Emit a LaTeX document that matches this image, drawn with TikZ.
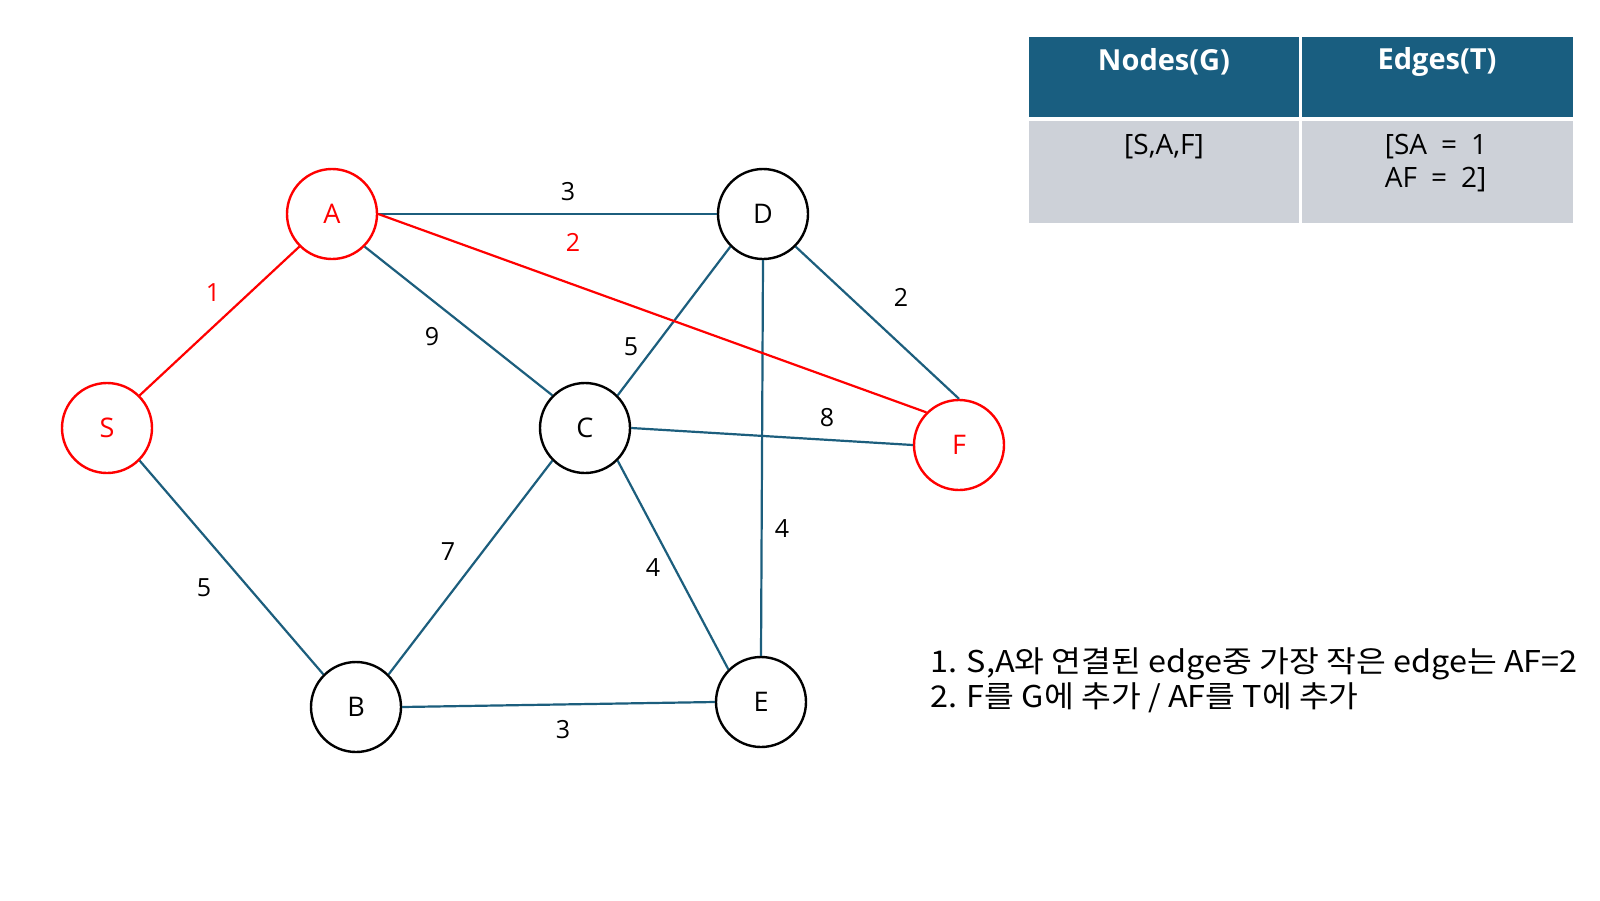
\documentclass[tikz,border=0pt]{standalone}
\usepackage{fontspec}
\setmainfont{Open Sans}
\newfontfamily\kr[FakeStretch=1.08]{Noto Sans CJK KR}
\definecolor{edgeblue}{RGB}{28,94,125}
\definecolor{hdr}{RGB}{25,94,128}
\definecolor{cellgray}{RGB}{205,209,216}
\definecolor{red}{RGB}{255,0,0}
\begin{document}
\begin{tikzpicture}[x=1pt,y=-1pt,
  vert/.style={circle,draw=black,line width=2.4pt,minimum size=90pt,inner sep=0pt,font=\fontsize{27}{30}\selectfont},
  redvert/.style={vert,draw=red,text=red},
  e/.style={draw=edgeblue,line width=2.2pt},
  re/.style={draw=red,line width=2.2pt},
  wt/.style={font=\fontsize{25}{28}\selectfont,text=black,inner sep=0pt},
  rwt/.style={wt,text=red},
  cell/.style={inner sep=0pt,font=\fontsize{28}{33}\selectfont,align=left}]
\useasboundingbox (0,0) rectangle (1600,900);
\fill[white] (0,0) rectangle (1600,900);
% nodes
\node[redvert] (S) at (107,428) {S};
\node[redvert] (A) at (332,214) {A};
\node[vert] (D) at (763,214) {D};
\node[vert] (C) at (585,428) {C};
\node[redvert] (F) at (959,445) {F};
\node[vert] (B) at (356,707) {B};
\node[vert] (E) at (761,702) {E};
% edges
\draw[e] (A.east) -- (D.west);
\draw[e] (A.south east) -- (C.north west);
\draw[e] (S.south east) -- (B.north west);
\draw[e] (C.north east) -- (D.south west);
\draw[e] (C.east) -- (F.west);
\draw[e] (D.south east) -- (F.north);
\draw[e] (D.south) -- (E.north);
\draw[e] (C.south west) -- (B.north east);
\draw[e] (C.south east) -- (E.north west);
\draw[e] (B.east) -- (E.west);
\draw[re] (S.north east) -- (A.south west);
\draw[re] (A.east) -- (F.north west);
% weights
\node[rwt] (w1) at (213,293) {1};
\node[wt] (w2) at (568,192) {3};
\node[rwt] (w3) at (573,242) {2};
\node[wt] (w4) at (432,337) {9};
\node[wt] (w5) at (631,347) {5};
\node[wt] (w6) at (901,297) {2};
\node[wt] (w7) at (827,418) {8};
\node[wt] (w8) at (782,529) {4};
\node[wt] (w9) at (448,552) {7};
\node[wt] (w10) at (653,568) {4};
\node[wt] (w11) at (204,588) {5};
\node[wt] (w12) at (563,730) {3};
% table
\fill[hdr] (1029,37) rectangle (1299,117);
\fill[hdr] (1302,37) rectangle (1573,117);
\fill[cellgray] (1029,121) rectangle (1299,223);
\fill[cellgray] (1302,121) rectangle (1573,223);
\node[cell,text=white,font=\bfseries\fontsize{29}{34}\selectfont] (h1) at (1164,62) {Nodes(G)};
\node[cell,text=white,font=\bfseries\fontsize{29}{34}\selectfont] (h2) at (1437,62) {Edges(T)};
\node[cell,anchor=north] (c1) at (1164,134) {[S,A,F]};
\node[cell,anchor=north] (c2) at (1436,134) {[SA\,\,\,=\,\,\,1\\AF\,\,\,=\,\,\,2]};
% notes
\node[anchor=west,inner sep=0pt,align=left,font=\kr\fontsize{30}{35}\selectfont] (note) at (930,680)
 {1. S,A와 연결된 edge중 가장 작은 edge는 AF=2\\2. F를 G에 추가 / AF를 T에 추가};
\end{tikzpicture}
\end{document}
